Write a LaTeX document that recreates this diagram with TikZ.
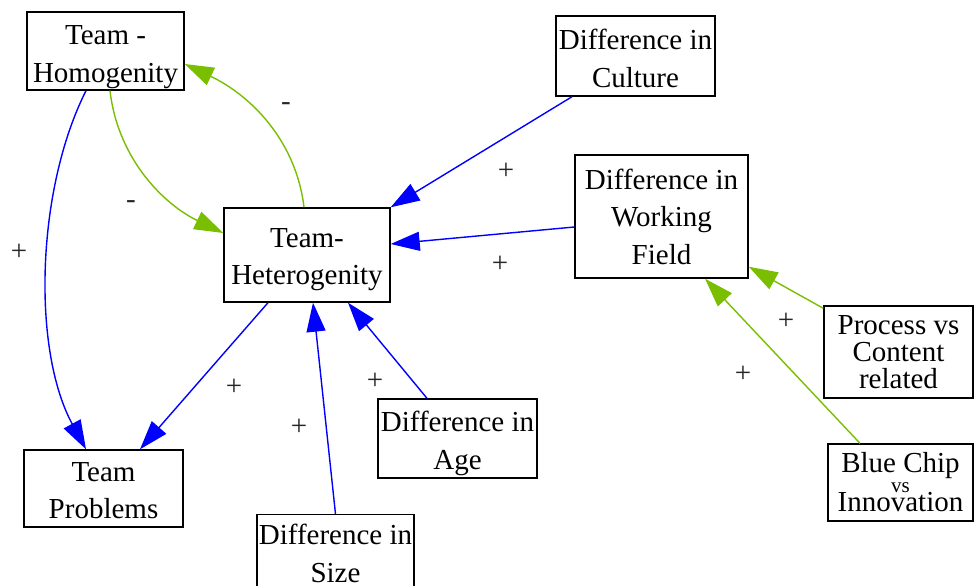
\documentclass[tikz,border=0pt]{standalone}
\usepackage{fontspec}
\setmainfont{Liberation Serif}
\usetikzlibrary{arrows.meta}
\definecolor{lgreen}{RGB}{122,190,0}
\definecolor{eblue}{RGB}{0,0,255}
\begin{document}
\begin{tikzpicture}[x=1pt,y=-1pt,
  box/.style={draw=black,line width=1.4pt,inner sep=0pt,align=center,
    font=\fontsize{29}{37.5}\selectfont},
  posedge/.style={line width=1.4pt,draw=eblue,-{Triangle[length=29pt,width=19pt]}},
  negedge/.style={line width=1.4pt,draw=lgreen,-{Triangle[length=29pt,width=19pt]}},
  lbl/.style={inner sep=0pt,font=\fontsize{29}{29}\selectfont,text=black!85}]
\useasboundingbox (0,0) rectangle (975,586);
\node[box,minimum width=157pt,minimum height=78pt] (hom) at (105.5,51) {\rule{0pt}{31pt}Team -\\Homogenity};
\node[box,minimum width=166pt,minimum height=94pt] (het) at (307,255) {\rule{0pt}{28pt}Team-\\Heterogenity};
\node[box,minimum width=159pt,minimum height=80pt] (cul) at (635.5,56) {\rule{0pt}{25pt}Difference in\\Culture};
\node[box,minimum width=173pt,minimum height=123pt] (wf) at (661.5,216.5) {Difference in\\Working\\Field};
\node[box,minimum width=149pt,minimum height=92pt,font=\fontsize{29}{27}\selectfont] (proc) at (898.5,352) {Process vs\\Content\\related};
\node[box,minimum width=145pt,minimum height=77pt,font=\fontsize{29}{19.5}\selectfont] (blue) at (900.5,482.5) {Blue Chip\\{\fontsize{21}{19.5}\selectfont vs}\\Innovation};
\node[box,minimum width=159pt,minimum height=79pt] (age) at (457.5,438.5) {\rule{0pt}{30pt}Difference in\\Age};
\node[box,minimum width=157pt,minimum height=80pt,anchor=north] (size) at (335.5,514) {Difference in\\\rule[-3pt]{0pt}{3pt}Size};
\node[box,minimum width=159pt,minimum height=77pt] (prob) at (103.5,488.5) {\rule{0pt}{23pt}Team\\Problems};

% edges
\draw[negedge] ([xshift=4.5pt]hom.south) .. controls (118,160) and (165,205) .. ([yshift=22pt]het.west);
\draw[negedge] ([xshift=-3pt]het.north) .. controls (296,140) and (250,95) .. ([yshift=-13pt]hom.east);
\draw[posedge] ([xshift=-19.5pt]hom.south) .. controls (36,190) and (32,350) .. ([xshift=-17.5pt]prob.north);
\draw[posedge] ([xshift=-63.5pt]cul.south) -- (het.north east);
\draw[posedge] ([yshift=-10.5pt]wf.west) -- ([yshift=11pt]het.east);
\draw[posedge] ([xshift=-39pt]het.south) -- ([xshift=36.5pt]prob.north);
\draw[posedge] (size.north) -- ([xshift=6pt]het.south);
\draw[posedge] ([xshift=-30.5pt]age.north) -- ([xshift=41pt]het.south);
\draw[negedge] ([yshift=-3pt]proc.north west) -- ([yshift=12pt]wf.south east);
\draw[negedge] ([xshift=-40.5pt]blue.north) -- ([xshift=43.5pt]wf.south);

% labels
\node[lbl] (l1) at (131,205) {-};
\node[lbl] (l2) at (286,107) {-};
\node[lbl] (l3) at (19,252) {+};
\node[lbl] (l4) at (506,171) {+};
\node[lbl] (l5) at (500,264) {+};
\node[lbl] (l6) at (234,387) {+};
\node[lbl] (l7) at (299,427) {+};
\node[lbl] (l8) at (375,381) {+};
\node[lbl] (l9) at (786,321) {+};
\node[lbl] (l10) at (743,374) {+};
\end{tikzpicture}
\end{document}
